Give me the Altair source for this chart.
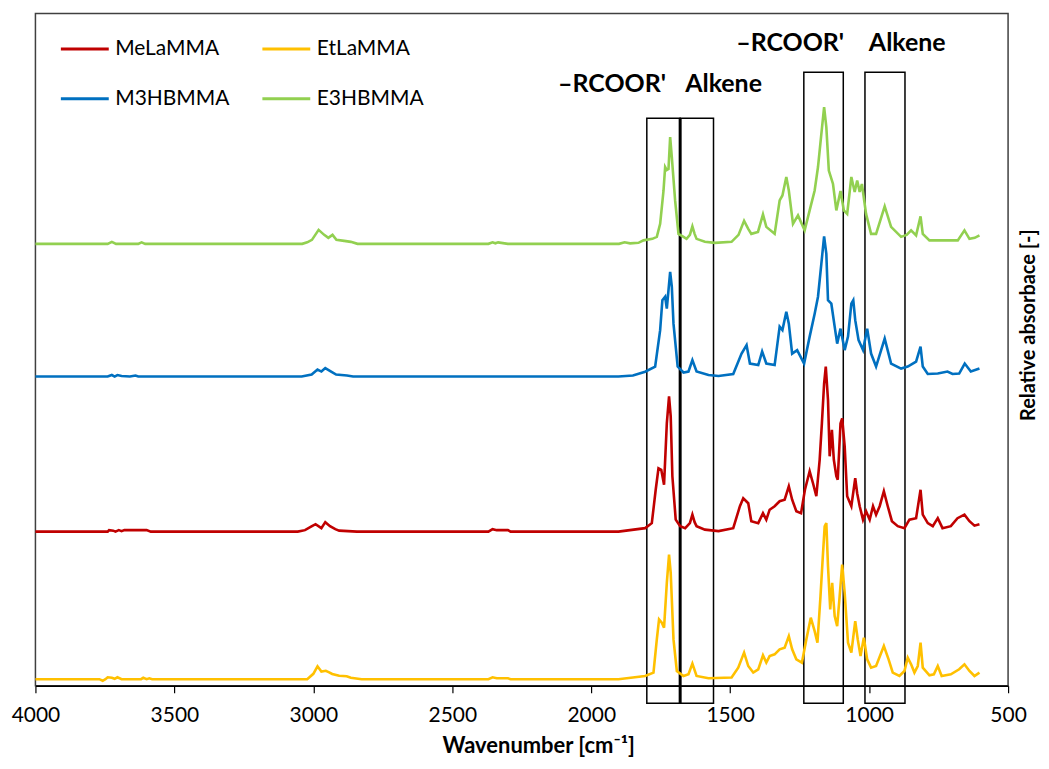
import altair as alt
import pandas as pd

# legend order is column-major in Vega's grid, so this gives rows: MeLaMMA/EtLaMMA, M3HBMMA/E3HBMMA
series_names = ["MeLaMMA", "M3HBMMA", "EtLaMMA", "E3HBMMA"]
series_colors = ["#C00000", "#0070C0", "#FFC000", "#92D050"]

# ---- MeLaMMA (red) ----
mela_wn = [4000, 3740, 3735, 3720, 3712, 3700, 3690, 3680, 3600, 3585, 3056, 3030, 3005, 2992, 2971, 2957, 2940,
           2921, 2907, 2843, 2370, 2355, 2340, 2300, 2290, 1902, 1806, 1782, 1768, 1758, 1748, 1738, 1728, 1720,
           1714, 1708, 1696, 1680, 1662, 1645, 1636, 1628, 1621, 1591, 1542, 1489, 1465, 1453, 1435, 1424, 1399,
           1382, 1370, 1358, 1340, 1322, 1304, 1289, 1277, 1262, 1245, 1231, 1214, 1202, 1190, 1178, 1170, 1162,
           1156, 1148, 1142, 1134, 1127, 1118, 1113, 1103, 1097, 1088, 1079, 1064, 1050, 1043, 1034, 1022, 1011,
           998, 986, 975, 962, 947, 933, 918, 897, 873, 855, 831, 815, 807, 789, 771, 753, 736, 706, 682, 657,
           639, 621, 603]
mela_abs = [154.5, 154.5, 156, 155.5, 154.5, 156, 155, 156, 156, 154.5, 154.5, 156, 160, 162, 158, 164, 160,
            157, 155.5, 154.5, 154.5, 157, 156, 156, 154.5, 154.5, 158, 163, 196.5, 218, 216.5, 201.5, 263, 290,
            270, 210, 166.5, 160, 158, 163, 171.5, 164, 160, 156.5, 155, 158, 180, 188, 183, 165, 163,
            173, 166.5, 176.5, 180, 185, 186.5, 200, 186.5, 175, 173, 196.5, 215, 203, 190, 226.5, 263, 303,
            320, 286.5, 230, 256.5, 226.5, 210, 206.5, 263, 268, 240, 190, 180, 208, 193, 180, 166.5, 175,
            166.5, 180, 171.5, 180, 195, 180, 165, 160, 158, 166.5, 168, 196.5, 171.5, 163, 160, 168, 158, 160,
            168, 171.5, 165, 160.5, 162]

# ---- EtLaMMA (yellow) ----
etla_wn = [4000, 3770, 3758, 3748, 3740, 3725, 3715, 3705, 3690, 3620, 3612, 3600, 3590, 3580, 3022, 3000, 2985,
           2971, 2955, 2943, 2932, 2907, 2880, 2865, 2826, 2370, 2355, 2340, 2300, 2290, 1902, 1806, 1776, 1764,
           1756, 1746, 1738, 1728, 1720, 1714, 1704, 1692, 1668, 1650, 1636, 1621, 1578, 1495, 1471, 1450, 1435,
           1417, 1399, 1382, 1370, 1358, 1340, 1322, 1304, 1289, 1277, 1262, 1242, 1226, 1210, 1196, 1186, 1175,
           1168, 1160, 1154, 1148, 1140, 1133, 1124, 1115, 1107, 1097, 1088, 1076, 1064, 1050, 1041, 1031, 1019,
           1007, 993, 975, 947, 930, 915, 891, 873, 861, 849, 837, 825, 815, 807, 783, 767, 753, 739, 706, 676,
           657, 639, 621, 603]
etla_abs = [6.6, 6.6, 5, 6.6, 8.5, 8, 7, 8.5, 6.6, 6.6, 8, 6.6, 7.5, 6.6, 6.6, 12, 19.5,
            14.2, 15, 13.5, 11.8, 10, 9.5, 8, 6.6, 6.6, 8.5, 7.5, 7.5, 6.6, 6.6, 9.8, 13.2, 46.5,
            66.5, 63.2, 58.2, 103.2, 131.5, 113.2, 46.5, 14.8, 9.8, 11.5, 22.2, 9.8, 7.5, 8.2, 18.2, 33.2, 19.8,
            13.2, 16.5, 30.5, 23.2, 29.8, 31.5, 36.5, 38.2, 49.8, 36.5, 26.5, 23.2, 46.5, 68.2, 54.8, 43.2, 89.8,
            123.2, 159.8, 163.2, 119.8, 76.5, 103.2, 69.8, 59.8, 86.5, 121.5, 93.2, 43.2, 33.2, 64.8, 46.5, 29.8, 48.2,
            26.5, 18.2, 19.8, 39.8, 26.5, 13.2, 9.8, 14.8, 28.2, 21.5, 13.2, 19.8, 43.2, 18.2, 10.5, 11.5, 19.8, 9.8, 11.5, 16.5,
            21.5, 14.8, 9.8, 13.2]

# ---- M3HBMMA (blue) ----
m3hb_wn = [4000, 3740, 3725, 3715, 3705, 3690, 3660, 3640, 3630, 3042, 3006, 2985, 2971, 2957, 2936, 2918, 2879,
           2857, 2833, 1902, 1850, 1806, 1770, 1752, 1744, 1734, 1728, 1716, 1710, 1704, 1689, 1668, 1650, 1636,
           1621, 1578, 1542, 1489, 1459, 1441, 1429, 1399, 1385, 1370, 1340, 1322, 1312, 1298, 1289, 1277, 1259,
           1234, 1214, 1196, 1184, 1172, 1162, 1154, 1148, 1136, 1124, 1115, 1103, 1088, 1076, 1064, 1057, 1050,
           1038, 1022, 1007, 993, 975, 944, 921, 885, 861, 843, 831, 815, 807, 789, 753, 718, 700, 676, 656, 634,
           603]
m3hb_abs = [310, 310, 311.5, 310, 311.5, 310.5, 310, 311, 310, 310, 312, 317, 315, 318.5, 315, 312, 311,
            310, 310, 310, 311, 314.8, 319.8, 356.5, 386.5, 390, 378, 415, 400, 363, 320, 314, 315, 326.5,
            315, 311.5, 310.5, 312.5, 333, 341.5, 323, 321.5, 335, 323, 321.5, 360, 356.5, 375, 363, 333, 336.5,
            323, 350, 373, 390, 423, 450.5, 433, 386.5, 383, 360, 343, 358, 336.5, 350, 383, 386.5, 366.5,
            346.5, 336.5, 358, 333, 320, 348, 323, 318, 320, 323, 325, 340, 320, 312.5, 313, 315, 312.5, 313, 323, 315,
            318]

# ---- E3HBMMA (green) ----
e3hb_wn = [4000, 3740, 3725, 3710, 3630, 3618, 3605, 3040, 3022, 3005, 2981, 2961, 2946, 2931, 2917, 2889, 2865,
           2841, 2370, 2355, 2345, 2335, 2300, 1900, 1880, 1860, 1830, 1812, 1780, 1764, 1752, 1740, 1734, 1728,
           1722, 1716, 1710, 1698, 1686, 1668, 1657, 1645, 1636, 1628, 1621, 1591, 1555, 1495, 1470, 1450, 1435,
           1424, 1400, 1382, 1370, 1340, 1322, 1312, 1298, 1289, 1274, 1256, 1232, 1214, 1196, 1184, 1172, 1162,
           1154, 1145, 1130, 1118, 1103, 1091, 1079, 1064, 1052, 1043, 1034, 1026, 1011, 993, 975, 944, 921, 885,
           865, 849, 831, 815, 807, 783, 741, 681, 657, 639, 620, 603]
e3hb_abs = [443, 443, 445, 443, 443, 444.5, 443, 443, 444.5, 447, 457, 452, 449, 452, 447, 446, 445,
            443, 443, 444.5, 443.5, 444.5, 443, 443, 444.5, 443.5, 444, 446.5, 448, 450, 463, 496, 520, 517,
            518, 550, 530, 486, 453, 450, 448, 452, 460.5, 453, 448, 445, 444, 445, 452, 466, 458,
            453, 455, 472.5, 460, 453, 486.5, 491.5, 510, 496.5, 463, 471.5, 456.5, 476.5, 496.5, 520, 553, 580,
            560, 516.5, 503, 476.5, 496, 476.5, 473, 510, 495, 506.5, 495, 503, 473, 453, 453, 480.5, 460, 450,
            452, 456.5, 451.5, 470.5, 453, 446.5, 446.5, 446.5, 456.5, 448, 449, 451.5]

# ---- highlighted bands (boxes) ----
box_left = [1800, 1680, 1235, 1015]
box_right = [1680, 1560, 1093, 871]
box_bottom = [-17.5, -17.5, -17.5, -17.5]
box_top = [569, 569, 615, 615]
divider_wn = [1680]

# ---- band labels ----
ester_label = ["\u2013RCOOR'", "\u2013RCOOR'"]
ester_wn = [1731, 1090]
alkene_label = ["Alkene", "Alkene"]
alkene_wn = [1662, 1001]
label_abs = [595, 636]

rows = []
for name, wn, ab in [("MeLaMMA", mela_wn, mela_abs), ("EtLaMMA", etla_wn, etla_abs),
                     ("M3HBMMA", m3hb_wn, m3hb_abs), ("E3HBMMA", e3hb_wn, e3hb_abs)]:
    for w, a in zip(wn, ab):
        rows.append({"series": name, "wn": w, "ab": a})
df = pd.DataFrame(rows)

boxes = pd.DataFrame({"wn": box_left, "wn2": box_right, "ab": box_bottom, "ab2": box_top})
divider = pd.DataFrame({"wn": divider_wn, "ab": box_bottom[:1], "ab2": box_top[:1]})
ester = pd.DataFrame({"wn": ester_wn, "ab": label_abs, "t": ester_label})
alkene = pd.DataFrame({"wn": alkene_wn, "ab": label_abs, "t": alkene_label})

FONT = "Lato"
XT = "Wavenumber [cm\u207b\u00b9]"
YT = "Relative absorbace [-]"

x_scale = alt.Scale(domain=[500, 4000], reverse=True, nice=False, zero=False)
y_scale = alt.Scale(domain=[0, 674], nice=False, zero=False)

x_axis = alt.Axis(values=[4000, 3500, 3000, 2500, 2000, 1500, 1000, 500], format="d", grid=False,
                  labelFont=FONT, labelFontSize=21, labelColor="black", labelPadding=12, labelFlush=False,
                  tickSize=7, tickColor="black", tickWidth=1.2, domainColor="black", domainWidth=1.5,
                  titleFont=FONT, titleFontSize=22, titleFontWeight="bold", titleColor="black",
                  titlePadding=10, titleX=504)
y_axis = alt.Axis(orient="right", labels=False, ticks=False, domain=False, grid=False,
                  titleFont=FONT, titleFontSize=20, titleFontWeight="bold", titleColor="black",
                  titleAngle=270, titlePadding=30, titleY=312, titleAlign="center")

lines = alt.Chart(df).mark_line(strokeWidth=2.6).encode(
    x=alt.X("wn:Q", scale=x_scale, axis=x_axis, title=XT),
    y=alt.Y("ab:Q", scale=y_scale, axis=y_axis, title=YT),
    color=alt.Color("series:N", scale=alt.Scale(domain=series_names, range=series_colors),
                    legend=alt.Legend(orient="none", legendX=24, legendY=10, columns=2, title=None,
                                      symbolType="stroke", symbolSize=2304, symbolStrokeWidth=3,
                                      labelFont=FONT, labelFontSize=21, labelColor="black",
                                      labelOffset=5, columnPadding=26, rowPadding=14, padding=0)),
)

rects = alt.Chart(boxes).mark_rect(fillOpacity=0, stroke="black", strokeWidth=1.5).encode(
    x=alt.X("wn:Q", scale=x_scale, title=XT),
    x2="wn2:Q",
    y=alt.Y("ab:Q", scale=y_scale, title=YT),
    y2="ab2:Q",
)

mid = alt.Chart(divider).mark_rule(color="black", strokeWidth=3).encode(
    x=alt.X("wn:Q", scale=x_scale, title=XT),
    y=alt.Y("ab:Q", scale=y_scale, title=YT),
    y2="ab2:Q",
)

t_ester = alt.Chart(ester).mark_text(font=FONT, fontSize=25, fontWeight="bold", align="right",
                                     baseline="alphabetic", color="black").encode(
    x=alt.X("wn:Q", scale=x_scale, title=XT),
    y=alt.Y("ab:Q", scale=y_scale, title=YT),
    text="t:N",
)
t_alk = alt.Chart(alkene).mark_text(font=FONT, fontSize=25, fontWeight="bold", align="left",
                                    baseline="alphabetic", color="black").encode(
    x=alt.X("wn:Q", scale=x_scale, title=XT),
    y=alt.Y("ab:Q", scale=y_scale, title=YT),
    text="t:N",
)

chart = alt.layer(rects, mid, lines, t_ester, t_alk).properties(
    width=975, height=674,
    autosize=alt.AutoSizeParams(type="none"),
    padding={"left": 27.5, "top": 4.5, "right": 33, "bottom": 74},
    background="white",
).configure_view(stroke="#404040", strokeWidth=1.5)

chart.save("out.html", embed_options={"renderer": "svg", "actions": False})
